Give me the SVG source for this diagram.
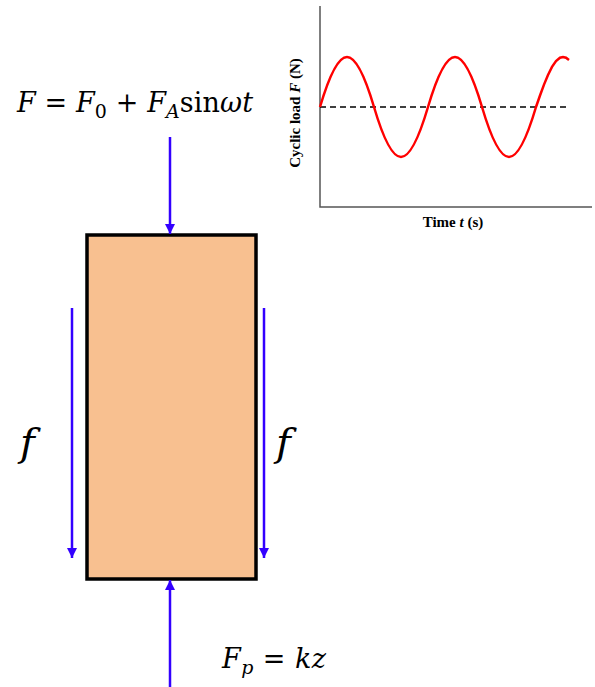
<svg xmlns="http://www.w3.org/2000/svg" width="595" height="687" viewBox="0 0 595 687">
<style>
.math{font-family:"DejaVu Serif","Liberation Serif",serif;fill:#000}
.it{font-style:italic}
.lbl{font-family:"Liberation Serif","Times New Roman",serif;font-weight:bold;font-size:15px;fill:#000}
.force{stroke:#3300FF;stroke-width:2.5;fill:none}
.axis{stroke:#555;stroke-width:1.5;fill:none}
</style>
<defs>
<marker id="ah" viewBox="0 0 10 10" refX="10" refY="5" markerWidth="4" markerHeight="4" orient="auto" markerUnits="strokeWidth">
<path d="M0,0 L10,5 L0,10 z" fill="#3300FF"/>
</marker>
</defs>
<rect width="595" height="687" fill="#fff"/>

<g id="chart">
<path class="axis" d="M320,6 L320,207 L592,207"/>
<line x1="320" y1="107" x2="569" y2="107" stroke="#000" stroke-width="1.5" stroke-dasharray="6,4"/>
<path d="M320,107 C339.67,40.33 354.33,40.33 374,107 C393.67,173.67 408.33,173.67 428,107 C447.67,40.33 462.33,40.33 482,107 C501.67,173.67 516.33,173.67 536,107 L540,95.5 L544,84.6 L548,74.9 L552,66.9 L556,61.1 L560,57.7 L563,57 L566,57.7 L569,60" fill="none" stroke="#FF0000" stroke-width="2.5"/>
<text class="lbl" x="453" y="227" text-anchor="middle">Time <tspan font-style="italic">t</tspan> (s)</text>
<text class="lbl" transform="translate(300,113) rotate(-90)" text-anchor="middle">Cyclic load <tspan font-style="italic">F</tspan> (N)</text>
</g>

<g id="equation">
<text class="math" x="17" y="112" font-size="27" textLength="236" lengthAdjust="spacing"><tspan class="it">F</tspan> = <tspan class="it">F</tspan><tspan font-size="19" dy="6">0</tspan><tspan dy="-6"> + </tspan><tspan class="it">F</tspan><tspan class="it" font-size="19" dy="6">A</tspan><tspan dy="-6">sin</tspan><tspan class="it">ωt</tspan></text>
</g>

<g id="pile">
<rect x="87" y="235" width="169" height="344" fill="#F8C090" stroke="#000" stroke-width="3.5"/>
</g>

<g id="connectors">
<line class="force" x1="170" y1="137" x2="170" y2="234" marker-end="url(#ah)"/>
<line class="force" x1="170" y1="687" x2="170" y2="580" marker-end="url(#ah)"/>
<line class="force" x1="72" y1="308" x2="72" y2="558" marker-end="url(#ah)"/>
<line class="force" x1="264" y1="308" x2="264" y2="558" marker-end="url(#ah)"/>
</g>

<g id="labels">
<text class="math it" x="20" y="456" font-size="40">f</text>
<text class="math it" x="276" y="456" font-size="40">f</text>
<text class="math" x="222" y="668" font-size="27" textLength="104" lengthAdjust="spacing"><tspan class="it">F</tspan><tspan class="it" font-size="19" dy="6">p</tspan><tspan dy="-6"> = </tspan><tspan class="it">kz</tspan></text>
</g>
</svg>
